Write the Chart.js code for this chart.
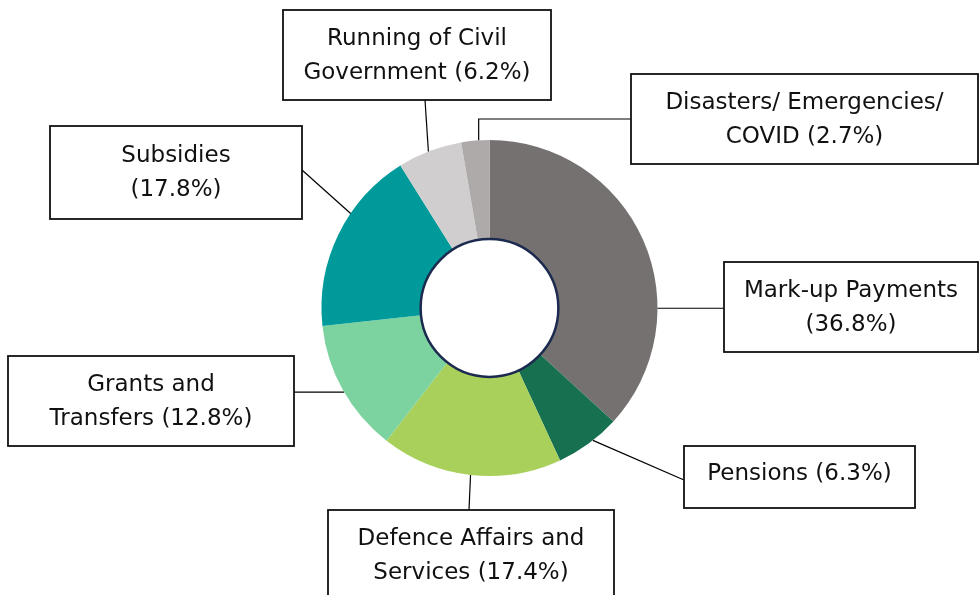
<!DOCTYPE html>
<html>
<head>
<meta charset="utf-8">
<script src="https://cdn.jsdelivr.net/npm/chart.js@4"></script>
<style>
  html, body { margin: 0; padding: 0; background: #fff; }
  #wrap { width: 979px; height: 595px; position: relative; }
</style>
</head>
<body>
<div id="wrap"><canvas id="myChart" width="979" height="595"></canvas></div>
<script>
// data
var categories = [
	"Mark-up Payments",
	"Pensions",
	"Defence Affairs and Services",
	"Grants and Transfers",
	"Subsidies",
	"Running of Civil Government",
	"Disasters/ Emergencies/ COVID"
];
var shares = [36.8, 6.3, 17.4, 12.8, 17.8, 6.2, 2.7];
var labelLines = [
	["Mark-up Payments", "(36.8%)"],
	["Pensions (6.3%)"],
	["Defence Affairs and", "Services (17.4%)"],
	["Grants and", "Transfers (12.8%)"],
	["Subsidies", "(17.8%)"],
	["Running of Civil", "Government (6.2%)"],
	["Disasters/ Emergencies/", "COVID (2.7%)"]
];
var colors = ["#767171", "#177050", "#a9d05b", "#7dd3a0", "#009a9a", "#d0cece", "#aeaaaa"];

// callout boxes: box rect, where along the slice the leader starts (t), which side it meets
var boxes = [
	{ x: 724, y: 262, w: 254, h: 90, t: 0.68, side: "left", flat: true },
	{ x: 684, y: 446, w: 231, h: 62, t: 0.42, side: "left", at: 480 },
	{ x: 328, y: 510, w: 286, h: 90, t: 0.5, side: "top", at: 469 },
	{ x: 8, y: 356, w: 286, h: 90, t: 0.48, side: "right", flat: true },
	{ x: 50, y: 126, w: 252, h: 93, t: 0.63, side: "right", at: 170 },
	{ x: 283, y: 10, w: 268, h: 90, t: 0.48, side: "bottom", at: 425 },
	{ x: 631, y: 74, w: 347, h: 90, t: 0.62, side: "left", elbow: true }
];

var calloutPlugin = {
	id: "callouts",
	afterDatasetsDraw: function (chart) {
		var ctx = chart.ctx;
		var meta = chart.getDatasetMeta(0);
		var first = meta.data[0];
		// white hole with navy ring
		ctx.save();
		ctx.beginPath();
		ctx.arc(first.x, first.y, first.innerRadius, 0, Math.PI * 2);
		ctx.fillStyle = "#fff";
		ctx.fill();
		ctx.lineWidth = 2.5;
		ctx.strokeStyle = "#1b2a4e";
		ctx.stroke();
		ctx.restore();

		meta.data.forEach(function (arc, i) {
			var b = boxes[i];
			var a = arc.startAngle + (arc.endAngle - arc.startAngle) * b.t;
			var px = arc.x + Math.cos(a) * arc.outerRadius;
			var py = arc.y + Math.sin(a) * arc.outerRadius;
			var ex, ey;
			if (b.side == "left") { ex = b.x; ey = b.flat ? py : (b.at || b.y + b.h / 2); }
			if (b.side == "right") { ex = b.x + b.w; ey = b.flat ? py : b.at; }
			if (b.side == "top") { ex = b.at; ey = b.y; }
			if (b.side == "bottom") { ex = b.at; ey = b.y + b.h; }

			ctx.save();
			ctx.strokeStyle = "#000";
			ctx.lineWidth = 1.2;
			ctx.beginPath();
			ctx.moveTo(px, py);
			if (b.elbow) ctx.lineTo(px, ey);
			ctx.lineTo(ex, ey);
			ctx.stroke();

			ctx.fillStyle = "#fff";
			ctx.fillRect(b.x, b.y, b.w, b.h);
			ctx.lineWidth = 1.8;
			ctx.strokeStyle = "#111";
			ctx.strokeRect(b.x, b.y, b.w, b.h);

			ctx.fillStyle = "#111";
			ctx.font = "23px 'DejaVu Sans'";
			ctx.textAlign = "center";
			ctx.textBaseline = "middle";
			var lines = labelLines[i];
			var cy = lines.length > 1 ? b.y + b.h / 2 - 16 : b.y + b.h / 2 - 3;
			lines.forEach(function (s, k) {
				ctx.fillText(s, b.x + b.w / 2, cy + k * 34);
			});
			ctx.restore();
		});
	}
};

var myChart = new Chart(document.getElementById("myChart").getContext("2d"), {
	type: "doughnut",
	data: {
		labels: categories,
		datasets: [{
			data: shares,
			backgroundColor: colors,
			borderWidth: 0,
			hoverOffset: 0,
			offset: 0
		}]
	},
	options: {
		responsive: false,
		animation: false,
		events: [],
		cutout: "41%",
		layout: { padding: { top: 140, bottom: 119, left: 0, right: 0 } },
		plugins: {
			legend: { display: false },
			tooltip: { enabled: false }
		}
	},
	plugins: [calloutPlugin]
});
</script>
</body>
</html>
